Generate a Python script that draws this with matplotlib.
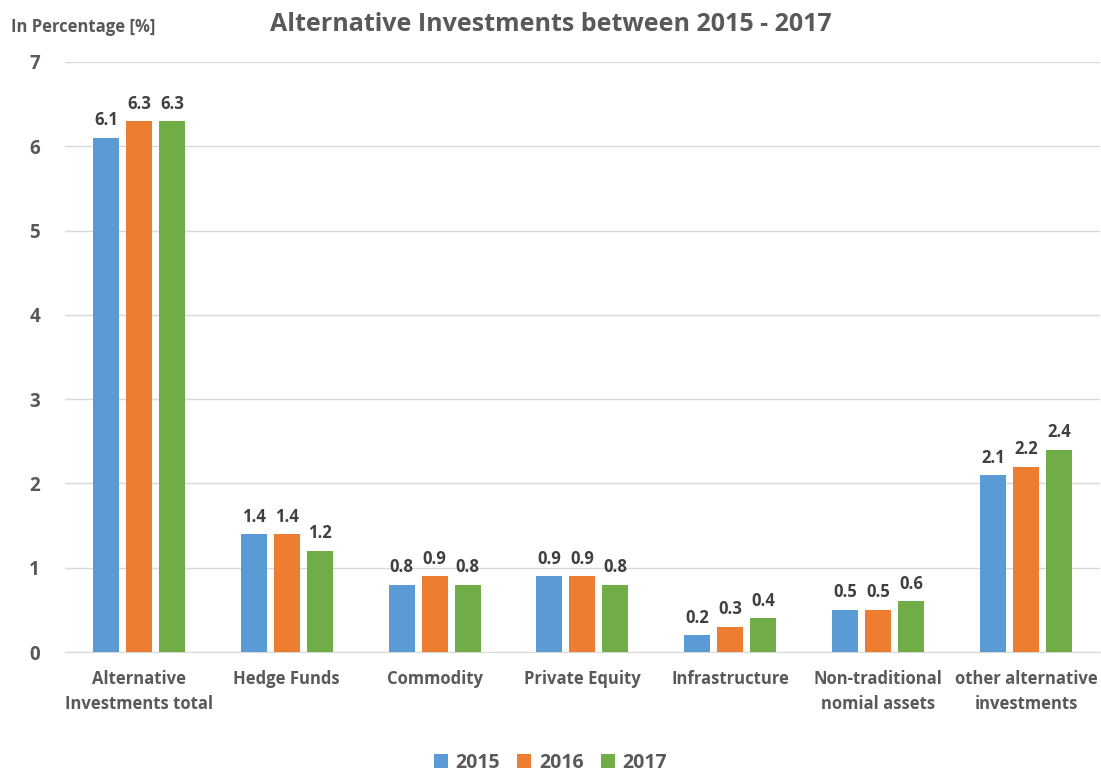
import numpy as np
import matplotlib.pyplot as plt

# investment categories and the share per year
categories = ['Alternative\nInvestments total', 'Hedge Funds', 'Commodity', 'Private Equity',
              'Infrastructure', 'Non-traditional\nnomial assets', 'other alternative\ninvestments']
years = ['2015', '2016', '2017']
vals_2015 = [6.1, 1.4, 0.8, 0.9, 0.2, 0.5, 2.1]
vals_2016 = [6.3, 1.4, 0.9, 0.9, 0.3, 0.5, 2.2]
vals_2017 = [6.3, 1.2, 0.8, 0.8, 0.4, 0.6, 2.4]
colors = ['#5B9BD5', '#ED7D31', '#70AD47']
gray = '#595959'

plt.rcParams['font.family'] = ['Open Sans', 'DejaVu Sans']
plt.rcParams['font.weight'] = 'bold'

fig = plt.figure(figsize=(11.01, 7.72), dpi=100)
ax = fig.add_axes([0.059, 0.1554, 0.94, 0.7643])

x = np.arange(len(categories))
step = 0.223
width = 0.176
for i, (yr, vals) in enumerate(zip(years, [vals_2015, vals_2016, vals_2017])):
    pos = x + (i - 1) * step
    ax.bar(pos, vals, width, color=colors[i], label=yr, zorder=3)
    for p, v in zip(pos, vals):
        ax.text(p, v + 0.1, f'{v:.1f}', ha='center', va='bottom', fontsize=12,
                fontweight='bold', color='#404040')

ax.set_xlim(-0.5, len(categories) - 0.5)
ax.set_ylim(0, 7)
ax.set_yticks(range(0, 8))
ax.yaxis.grid(True, color='#D9D9D9', linewidth=1, zorder=0)
ax.tick_params(axis='y', length=0, pad=18, labelsize=13.5, labelcolor=gray)
ax.tick_params(axis='x', length=0, pad=13, labelsize=12, labelcolor=gray)
ax.set_xticks(x)
ax.set_xticklabels(categories, fontweight='bold', linespacing=1.5)
for lbl in ax.get_yticklabels():
    lbl.set_fontweight('bold')
for s in ['top', 'right', 'left']:
    ax.spines[s].set_visible(False)
ax.spines['bottom'].set_color('#D9D9D9')

fig.text(0.5, 0.968, 'Alternative Investments between 2015 - 2017', ha='center', va='center',
         fontsize=18, fontweight='bold', color=gray)
fig.text(0.01, 0.965, 'In Percentage [%]', ha='left', va='center', fontsize=12,
         fontweight='bold', color=gray)

leg = fig.legend(loc='center', bbox_to_anchor=(0.5, 0.012), ncol=3, frameon=False,
                 fontsize=14, handlelength=0.7, handleheight=0.7, handletextpad=0.4,
                 columnspacing=0.9)
for t in leg.get_texts():
    t.set_color(gray)
    t.set_fontweight('bold')

fig.savefig('out.png', dpi=100)
